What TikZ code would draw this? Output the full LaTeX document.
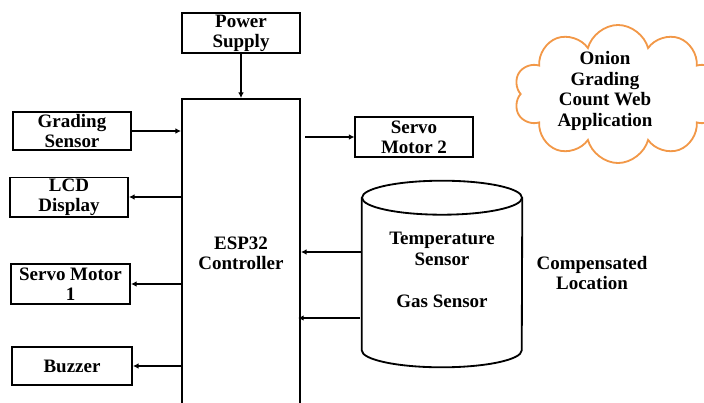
\documentclass[tikz,border=0pt]{standalone}
\usepackage{fontspec}
\setmainfont{Liberation Serif}[BoldFont={Liberation Serif Bold}]
\usetikzlibrary{arrows.meta,positioning,shapes.symbols}
\definecolor{cloudorange}{RGB}{242,152,72}

\begin{document}
\begin{tikzpicture}[
            x=0.025cm, y=-0.025cm,
            block/.style={
                    draw=black,
                    rectangle,
                    line width=1.3pt,
                    minimum width=2.95cm,
                    minimum height=1cm,
                    align=center,
                    inner sep=1pt,
                    font=\rmfamily\fontsize{13.5}{14}\selectfont\bfseries
                },
            label/.style={
                    align=center,
                    font=\rmfamily\fontsize{13.5}{14.5}\selectfont\bfseries
                },
            arrow/.style={
            -{Latex[length=4pt,width=4pt]},
            line width=1.3pt
            }
            ]

            \useasboundingbox (0,0) rectangle (704,402);
            \clip (0,0) rectangle (704,402);

            % Controller
            \node[block, minimum height=7.7cm] (ctrl) at (241,253)
            {ESP32\\Controller};
            \node[block] (power) at (241,33) {Power\\Supply};
            \draw[arrow] (power.south) -- (ctrl.north);

            % Left side
            \node[block, minimum height=0.95cm] (grading) at (72,131)
            {Grading\\Sensor};
            \node[block, minimum height=0.97cm] (lcd) at (69,197)
            {LCD\\Display};
            \node[block, minimum width=2.98cm] (servoOne) at (70.5,284)
            {Servo Motor\\1};
            \node[block, minimum width=3cm, minimum height=0.97cm] (buzzer) at (72,366)
            {Buzzer};
            \draw[arrow] (grading.east) -- (grading.east -| ctrl.west);
            \draw[arrow] (lcd.east -| ctrl.west) -- (lcd.east);
            \draw[arrow] (servoOne.east -| ctrl.west) -- (servoOne.east);
            \draw[arrow] (buzzer.east -| ctrl.west) -- (buzzer.east);

            % Right side
            \node[block, minimum width=2.93cm] (servoTwo) at (414,137)
            {Servo\\Motor 2};
            \draw[arrow] ([xshift=3pt]servoTwo.west -| ctrl.east) -- (servoTwo.west);

            % Sensor drum
            \node[minimum width=4cm, minimum height=3.8cm] (sensors) at (442,274) {};
            \draw[line width=1.3pt] (sensors.north)
            ellipse[x radius=2cm, y radius=0.425cm];
            \draw[line width=1.3pt] (sensors.north west) -- (sensors.south west)
            arc[start angle=180, end angle=360, x radius=2cm, y radius=0.425cm]
            -- (sensors.north east);
            \node[label] (temp) at (442,249) {Temperature\\Sensor};
            \node[label] (gas) at (442,301) {Gas Sensor};
            \coordinate (tempOut) at (362,252);
            \coordinate (gasOut) at (360,318);
            \draw[arrow] (tempOut) -- (tempOut -| ctrl.east);
            \draw[arrow] (gasOut) -- ([xshift=-2pt]gasOut -| ctrl.east);

            \node[label] (location) at (592,273) {Compensated\\Location};

            % Cloud
            \node[cloud, cloud puffs=10, draw=cloudorange, line width=1.3pt,
            minimum width=5.2cm, minimum height=3.45cm] (cloudShape) at (618,94) {};
            \node[label] (webApp) at (605,91)
            {Onion\\Grading\\Count Web\\Application};

        \end{tikzpicture}
\end{document}
